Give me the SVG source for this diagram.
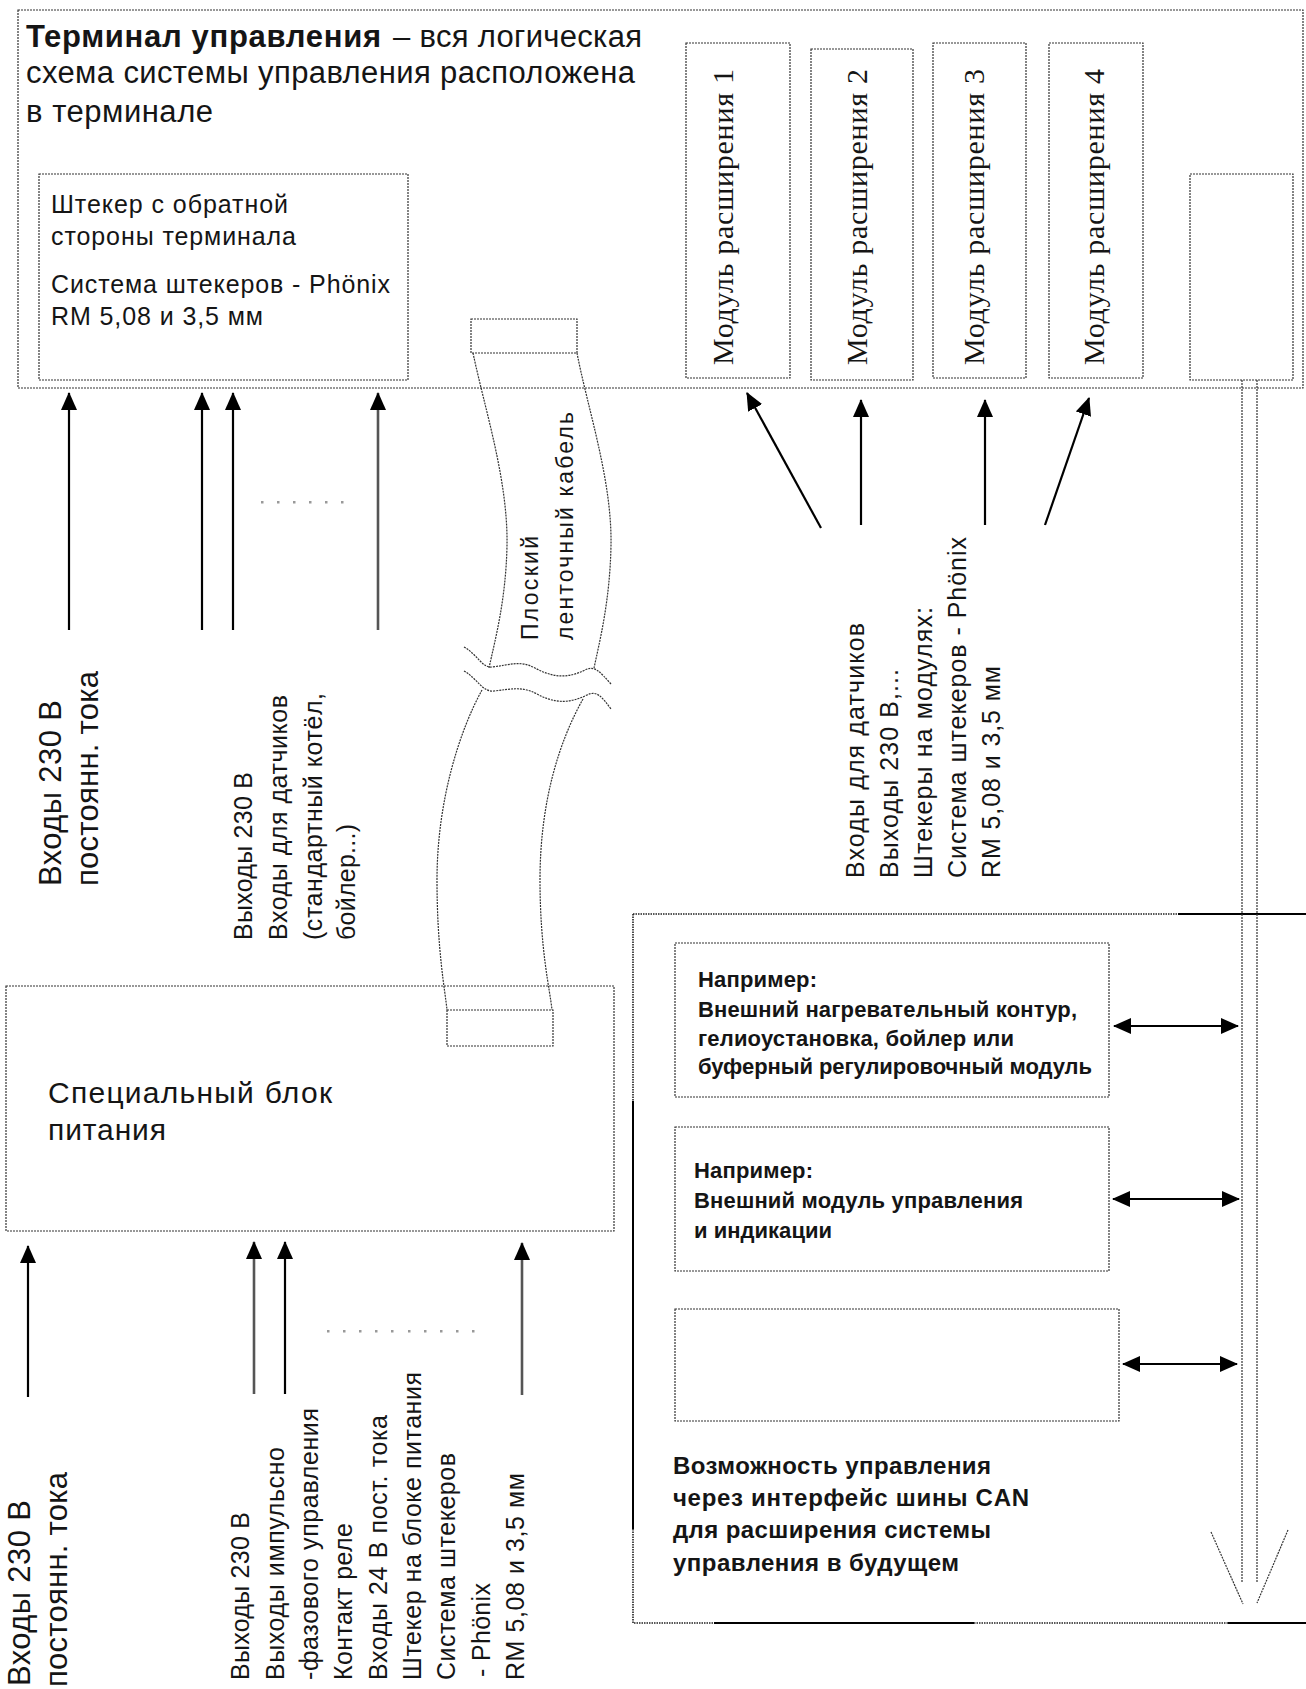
<svg xmlns="http://www.w3.org/2000/svg" width="1306" height="1689" viewBox="0 0 1306 1689">
  <defs>
    <marker id="ah" viewBox="0 0 18 16" refX="17" refY="8" markerWidth="18" markerHeight="16" markerUnits="userSpaceOnUse" orient="auto-start-reverse">
      <path d="M0,0 L18,8 L0,16 Z" fill="#000"/>
    </marker>
    <style>
      .box { fill: none; stroke: #333; stroke-width: 1.2; stroke-dasharray: 2 1; }
      .edge { fill: none; stroke: #333; stroke-width: 1.2; stroke-dasharray: 2 1; }
      .solid { fill: none; stroke: #000; stroke-width: 2; }
      .dots { fill: none; stroke: #222; stroke-width: 1.6; stroke-dasharray: 1.5 1; }
      .arr { fill: none; stroke: #000; stroke-width: 2.2; marker-end: url(#ah); }
      .arr-g { fill: none; stroke: #555; stroke-width: 2.6; marker-end: url(#ah); }
      .dbl { fill: none; stroke: #000; stroke-width: 2; marker-start: url(#ah); marker-end: url(#ah); }
      .gap { fill: #999; }
      text { font-family: "Liberation Sans", Arial, sans-serif; fill: #151515; }
      .big { font-size: 31px; }
      .mid { font-size: 25px; }
      .sm { font-size: 25px; }
      .lbl { font-size: 31px; }
      .can { font-size: 22px; font-weight: bold; }
      .canb { font-size: 24px; font-weight: bold; }
      .mod { font-family: "Liberation Serif", "Times New Roman", serif; font-size: 30px; }
    </style>
  </defs>

  <!-- control terminal -->
  <g id="terminal">
    <rect class="box" x="18" y="10" width="1285" height="378"/>
    <text class="big" x="26" y="47" font-weight="bold" textLength="355" lengthAdjust="spacing">Терминал управления</text>
    <text class="big" x="393" y="47" textLength="249" lengthAdjust="spacing">– вся логическая</text>
    <text class="big" x="26" y="83" textLength="609" lengthAdjust="spacing">схема системы управления расположена</text>
    <text class="big" x="26" y="122" textLength="187" lengthAdjust="spacing">в терминале</text>
  </g>

  <g id="rear-connector">
    <rect class="box" x="39" y="174" width="369" height="206"/>
    <text class="mid" x="51" y="213" textLength="237" lengthAdjust="spacing">Штекер с обратной</text>
    <text class="mid" x="51" y="245" textLength="245" lengthAdjust="spacing">стороны терминала</text>
    <text class="mid" x="51" y="293" textLength="339" lengthAdjust="spacing">Система штекеров - Phönix</text>
    <text class="mid" x="51" y="325" textLength="212" lengthAdjust="spacing">RM 5,08 и 3,5 мм</text>
  </g>

  <g id="module-1">
    <rect class="box" x="686" y="43" width="104" height="335"/>
    <text class="mod" transform="translate(733,365) rotate(-90)" textLength="296" lengthAdjust="spacing">Модуль расширения 1</text>
  </g>
  <g id="module-2">
    <rect class="box" x="811" y="49" width="102" height="331"/>
    <text class="mod" transform="translate(867,365) rotate(-90)" textLength="296" lengthAdjust="spacing">Модуль расширения 2</text>
  </g>
  <g id="module-3">
    <rect class="box" x="933" y="43" width="93" height="335"/>
    <text class="mod" transform="translate(984,365) rotate(-90)" textLength="296" lengthAdjust="spacing">Модуль расширения 3</text>
  </g>
  <g id="module-4">
    <rect class="box" x="1049" y="43" width="94" height="335"/>
    <text class="mod" transform="translate(1104,365) rotate(-90)" textLength="296" lengthAdjust="spacing">Модуль расширения 4</text>
  </g>

  <g id="can-port">
    <rect class="box" x="1190" y="174" width="103" height="206"/>
  </g>

  <!-- flat ribbon cable -->
  <g id="ribbon-cable">
    <rect class="box" x="471" y="319" width="106" height="34"/>
    <path class="edge" d="M473,353 C485,410 508,480 507,545 C506,600 495,640 489,668"/>
    <path class="edge" d="M577,353 C588,410 612,480 611,545 C610,600 600,640 594,668"/>
    <path class="edge" d="M464,647 C478,655 482,668 492,667 C510,665 520,660 535,668 C550,676 565,680 585,670 C595,665 600,672 611,684"/>
    <path class="edge" d="M464,671 C478,679 482,692 494,691 C512,689 522,686 537,694 C552,702 567,705 587,695 C597,690 602,697 611,709"/>
    <path class="edge" d="M482,690 C460,730 437,800 437,880 C437,950 445,990 447,1010"/>
    <path class="edge" d="M583,699 C560,740 540,800 540,880 C540,950 550,990 552,1010"/>
    <rect class="box" x="447" y="1010" width="106" height="36"/>
    <text font-size="23" transform="translate(538,640) rotate(-90)" textLength="104" lengthAdjust="spacing">Плоский</text>
    <text font-size="23" transform="translate(573,640) rotate(-90)" textLength="228" lengthAdjust="spacing">ленточный кабель</text>
  </g>

  <!-- power supply -->
  <g id="power-supply">
    <rect class="box" x="6" y="986" width="608" height="245"/>
    <text font-size="30" x="48" y="1103" textLength="284" lengthAdjust="spacing">Специальный блок</text>
    <text font-size="30" x="48" y="1140" textLength="118" lengthAdjust="spacing">питания</text>
  </g>

  <!-- CAN bus extension area -->
  <g id="can-area">
    <path class="dots" d="M633,914 V1101 M633,1529 V1623 H714 M974,1623 H1228 M633,914 H1178"/>
    <path class="solid" d="M633,1101 V1529 M714,1623 H974 M1228,1623 H1306 M1178,914 H1306"/>
    <text class="canb" x="673" y="1474" textLength="318" lengthAdjust="spacing">Возможность управления</text>
    <text class="canb" x="673" y="1506" textLength="356" lengthAdjust="spacing">через интерфейс шины CAN</text>
    <text class="canb" x="673" y="1538" textLength="318" lengthAdjust="spacing">для расширения системы</text>
    <text class="canb" x="673" y="1571" textLength="286" lengthAdjust="spacing">управления в будущем</text>
  </g>
  <g id="ext-heating">
    <rect class="box" x="675" y="943" width="434" height="154"/>
    <text class="can" x="698" y="987" textLength="119" lengthAdjust="spacing">Например:</text>
    <text class="can" x="698" y="1017" textLength="379" lengthAdjust="spacing">Внешний нагревательный контур,</text>
    <text class="can" x="698" y="1046" textLength="316" lengthAdjust="spacing">гелиоустановка, бойлер или</text>
    <text class="can" x="698" y="1074" textLength="394" lengthAdjust="spacing">буферный регулировочный модуль</text>
  </g>
  <g id="ext-control">
    <rect class="box" x="675" y="1127" width="434" height="144"/>
    <text class="can" x="694" y="1178" textLength="119" lengthAdjust="spacing">Например:</text>
    <text class="can" x="694" y="1208" textLength="329" lengthAdjust="spacing">Внешний модуль управления</text>
    <text class="can" x="694" y="1238" textLength="138" lengthAdjust="spacing">и индикации</text>
  </g>
  <g id="ext-empty">
    <rect class="box" x="675" y="1309" width="444" height="112"/>
  </g>

  <!-- free labels -->
  <g id="labels">
    <text class="lbl" transform="translate(61,886) rotate(-90)" textLength="186" lengthAdjust="spacing">Входы 230 В</text>
    <text class="lbl" transform="translate(98,886) rotate(-90)" textLength="215" lengthAdjust="spacing">постоянн. тока</text>

    <text class="sm" transform="translate(252,940) rotate(-90)" textLength="168" lengthAdjust="spacing">Выходы 230 В</text>
    <text class="sm" transform="translate(287,940) rotate(-90)" textLength="245" lengthAdjust="spacing">Входы для датчиков</text>
    <text class="sm" transform="translate(322,940) rotate(-90)" textLength="247" lengthAdjust="spacing">(стандартный котёл,</text>
    <text class="sm" transform="translate(355,940) rotate(-90)" textLength="116" lengthAdjust="spacing">бойлер...)</text>

    <text class="sm" transform="translate(864,878) rotate(-90)" textLength="255" lengthAdjust="spacing">Входы для датчиков</text>
    <text class="sm" transform="translate(898,878) rotate(-90)" textLength="209" lengthAdjust="spacing">Выходы 230 В,...</text>
    <text class="sm" transform="translate(932,878) rotate(-90)" textLength="271" lengthAdjust="spacing">Штекеры на модулях:</text>
    <text class="sm" transform="translate(966,878) rotate(-90)" textLength="341" lengthAdjust="spacing">Система штекеров - Phönix</text>
    <text class="sm" transform="translate(1000,878) rotate(-90)" textLength="212" lengthAdjust="spacing">RM 5,08 и 3,5 мм</text>

    <text class="lbl" transform="translate(30,1686) rotate(-90)" textLength="186" lengthAdjust="spacing">Входы 230 В</text>
    <text class="lbl" transform="translate(67,1687) rotate(-90)" textLength="215" lengthAdjust="spacing">постоянн. тока</text>

    <text class="sm" transform="translate(249,1680) rotate(-90)" textLength="168" lengthAdjust="spacing">Выходы 230 В</text>
    <text class="sm" transform="translate(284,1680) rotate(-90)" textLength="233" lengthAdjust="spacing">Выходы импульсно</text>
    <text class="sm" transform="translate(318,1680) rotate(-90)" textLength="272" lengthAdjust="spacing">-фазового управления</text>
    <text class="sm" transform="translate(352,1680) rotate(-90)" textLength="157" lengthAdjust="spacing">Контакт реле</text>
    <text class="sm" transform="translate(387,1680) rotate(-90)" textLength="265" lengthAdjust="spacing">Входы 24 В пост. тока</text>
    <text class="sm" transform="translate(421,1680) rotate(-90)" textLength="308" lengthAdjust="spacing">Штекер на блоке питания</text>
    <text class="sm" transform="translate(455,1680) rotate(-90)" textLength="227" lengthAdjust="spacing">Система штекеров</text>
    <text class="sm" transform="translate(490,1677) rotate(-90)" textLength="94" lengthAdjust="spacing">- Phönix</text>
    <text class="sm" transform="translate(524,1680) rotate(-90)" textLength="207" lengthAdjust="spacing">RM 5,08 и 3,5 мм</text>
  </g>

  <!-- connectors -->
  <g id="connectors">
    <path class="arr" d="M69,630 V393"/>
    <path class="arr" d="M202,630 V393"/>
    <path class="arr" d="M233,630 V393"/>
    <path class="arr-g" d="M378,630 V393"/>

    <path class="arr" d="M821,528 L747,393"/>
    <path class="arr" d="M861,525 V400"/>
    <path class="arr" d="M985,525 V400"/>
    <path class="arr" d="M1045,525 L1089,398"/>

    <path class="arr" d="M28,1397 V1246"/>
    <path class="arr-g" d="M254,1394 V1242"/>
    <path class="arr" d="M285,1394 V1242"/>
    <path class="arr-g" d="M522,1395 V1243"/>

    <path class="dbl" d="M1114,1026 H1238"/>
    <path class="dbl" d="M1113,1199 H1239"/>
    <path class="dbl" d="M1123,1364 H1237"/>

    <!-- CAN bus trunk -->
    <path class="edge" d="M1242,380 V1582 M1257,380 V1582"/>
    <path class="edge" d="M1211,1532 L1243,1604 M1288,1530 L1257,1603"/>

    <!-- "and so on" gaps -->
    <g class="gap">
      <rect x="261" y="501" width="2.5" height="2.5"/>
      <rect x="277" y="501" width="2.5" height="2.5"/>
      <rect x="293" y="501" width="2.5" height="2.5"/>
      <rect x="309" y="501" width="2.5" height="2.5"/>
      <rect x="325" y="501" width="2.5" height="2.5"/>
      <rect x="341" y="501" width="2.5" height="2.5"/>

      <rect x="327" y="1330" width="2.5" height="2.5"/>
      <rect x="343" y="1330" width="2.5" height="2.5"/>
      <rect x="359" y="1330" width="2.5" height="2.5"/>
      <rect x="375" y="1330" width="2.5" height="2.5"/>
      <rect x="391" y="1330" width="2.5" height="2.5"/>
      <rect x="408" y="1330" width="2.5" height="2.5"/>
      <rect x="424" y="1330" width="2.5" height="2.5"/>
      <rect x="440" y="1330" width="2.5" height="2.5"/>
      <rect x="456" y="1330" width="2.5" height="2.5"/>
      <rect x="472" y="1330" width="2.5" height="2.5"/>
    </g>
  </g>
</svg>
